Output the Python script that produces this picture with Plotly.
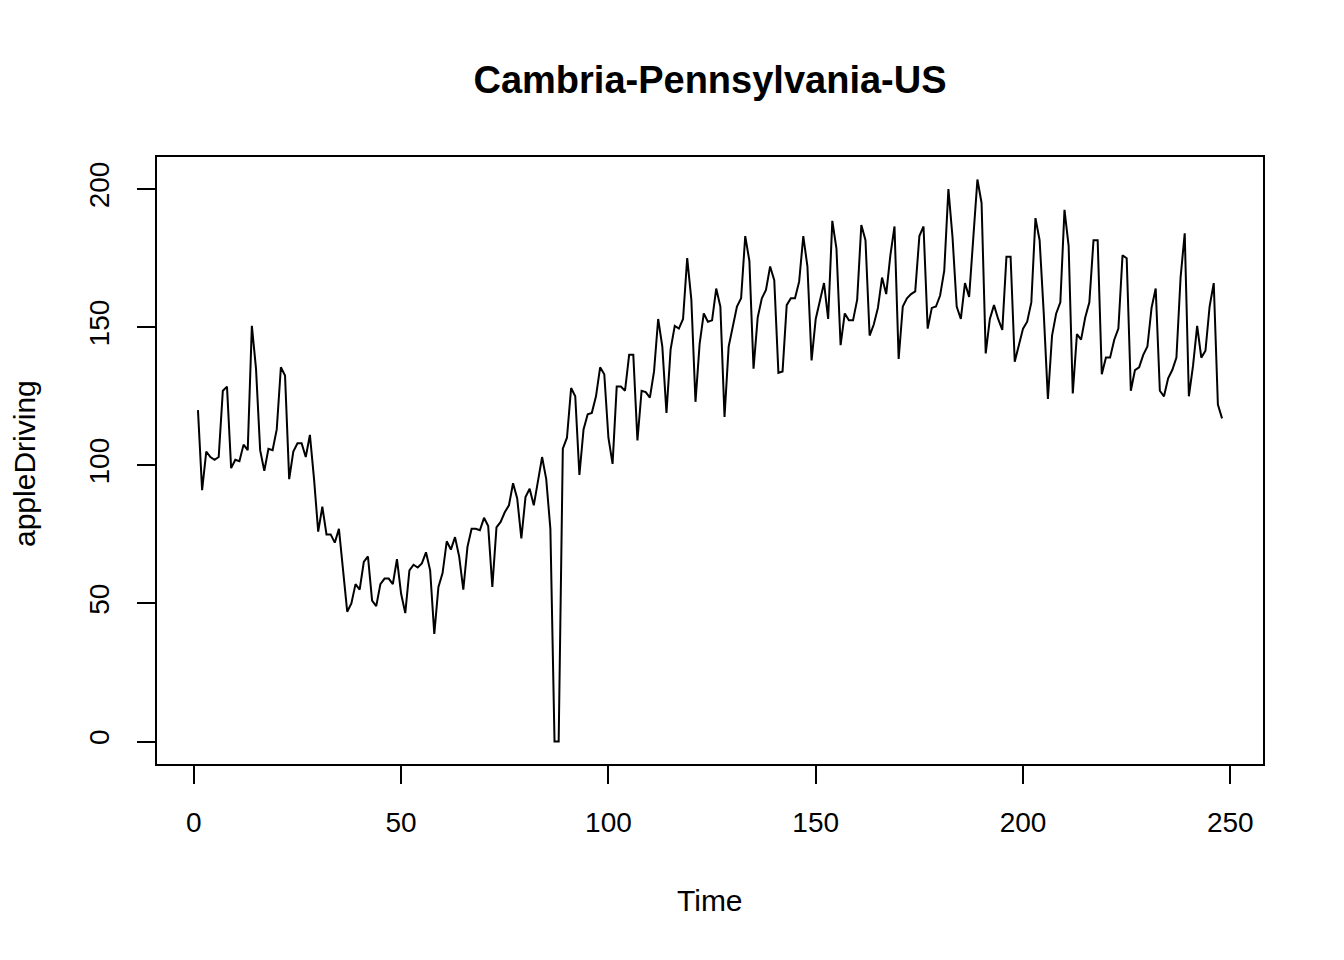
from plotly.graph_objs import Scatter, Figure, Layout

# values, one per day
apple_driving = [
    120, 91, 105, 103, 102, 103, 127, 128.5, 99, 102,
    101.5, 107.5, 105.5, 150.5, 135, 105.5, 98, 106, 105.5, 113,
    135.5, 132.5, 95, 105, 108, 108, 103, 111, 95, 76,
    85, 75, 75, 72, 77, 62, 47, 50, 57, 55,
    65, 67, 51, 49, 57, 59, 59, 57, 66, 53.5,
    46.5, 62, 64, 63, 64.5, 68.5, 62, 39, 56, 61,
    72.5, 69.5, 74, 67, 55, 70.5, 77, 77, 76.5, 81,
    78, 56, 77.5, 79.5, 83, 85.5, 93.5, 88, 73.5, 88.5,
    91.5, 85.5, 94, 103, 95, 77, 0, 0, 106, 110,
    128, 125, 96.5, 113, 118.5, 119, 125, 135.5, 133, 110,
    100.5, 128.5, 128.5, 127, 140, 140, 109, 127, 126.5, 124.5,
    134, 153, 143, 119, 142, 150.5, 149.5, 153, 175, 160,
    123, 144, 155, 152, 152.5, 164, 157.5, 117.5, 143, 150,
    157.5, 160.5, 183, 174, 135, 153.5, 160.5, 163.5, 172, 167,
    133.5, 134, 158, 160.5, 160.5, 166.5, 183, 172, 138, 153,
    160, 166, 153, 188.5, 178.5, 143.5, 155, 152.5, 152.5, 160,
    187, 181.5, 147, 151, 157, 168, 162, 176, 186.5, 138.5,
    157.5, 160.5, 162, 163, 183, 186.5, 149.5, 157, 157.5, 161.5,
    170.5, 200, 182.5, 157.5, 153, 166, 161, 181, 203.5, 195,
    140.5, 153, 158, 153, 149, 175.5, 175.5, 137.5, 144, 149.5,
    152, 159, 189.5, 181.5, 155, 124, 147, 155, 159, 192.5,
    179.5, 126, 147.5, 145.5, 153.5, 159, 181.5, 181.5, 133, 139,
    139, 145.5, 149.5, 176, 175, 127, 134.5, 135.5, 140, 143,
    157, 164, 127, 125, 131.5, 134.5, 139, 168, 184, 125,
    136, 150.5, 139, 141.5, 157.5, 166, 122, 117,
]
time = list(range(1, len(apple_driving) + 1))

x_ticks = [0, 50, 100, 150, 200, 250]
y_ticks = [0, 50, 100, 150, 200]

font = 'Liberation Sans, Arial, sans-serif'

# R pads the data range by 4% on each side
x_pad = (max(time) - min(time)) * 0.04
y_pad = (max(apple_driving) - min(apple_driving)) * 0.04

trace = Scatter(x=time, y=apple_driving, mode='lines',
                line=dict(color='black', width=2),
                hoverinfo='x+y')

axis_style = dict(showgrid=False, zeroline=False,
                  showline=True, mirror=True,
                  linecolor='black', linewidth=2,
                  ticks='outside', ticklen=18, tickwidth=2, tickcolor='black',
                  tickfont=dict(family=font, size=28, color='black'))

# the page body adds 8px, so margins are shifted by that much
fig = Figure(data=[trace], layout=Layout(
    width=1344, height=960,
    paper_bgcolor='white', plot_bgcolor='white',
    showlegend=False,
    margin=dict(l=149, r=89, t=149, b=204),
    title=dict(text='<b>Cambria-Pennsylvania-US</b>',
               font=dict(family=font, size=38, color='black'),
               x=(149 + 1255) / 2 / 1344, xanchor='center',
               y=1 - 72 / 960, yanchor='middle'),
))

fig.update_xaxes(range=[min(time) - x_pad, max(time) + x_pad],
                 tickvals=x_ticks, ticklabelstandoff=14, **axis_style)
fig.update_yaxes(range=[min(apple_driving) - y_pad, max(apple_driving) + y_pad],
                 tickvals=y_ticks, tickangle=-90, ticklabelstandoff=17,
                 **axis_style)

fig.add_annotation(text='Time', xref='paper', yref='paper',
                   x=0.5, y=(764 - 900) / 607, showarrow=False,
                   xanchor='center', yanchor='middle',
                   font=dict(family=font, size=30, color='black'))
fig.add_annotation(text='appleDriving', xref='paper', yref='paper',
                   x=(24 - 157) / 1106, y=(764 - 464) / 607, showarrow=False,
                   textangle=-90, xanchor='center', yanchor='middle',
                   font=dict(family=font, size=30, color='black'))

fig.write_html('out.html')
